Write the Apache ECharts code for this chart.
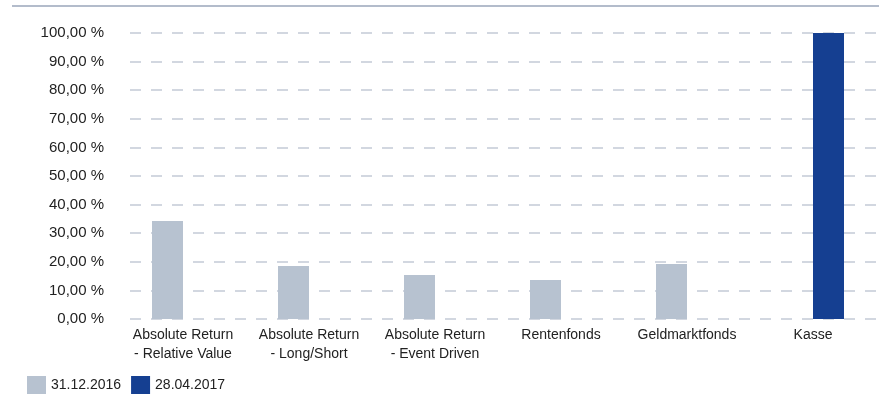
<!DOCTYPE html>
<html>
<head>
<meta charset="utf-8">
<script src="https://cdn.jsdelivr.net/npm/echarts@6/dist/echarts.min.js"></script>
<style>
html,body{margin:0;padding:0;background:#fff;}
#c{width:879px;height:394px;}
</style>
</head>
<body>
<div id="c"></div>
<script>
const categories = ['Absolute Return\n- Relative Value', 'Absolute Return\n- Long/Short', 'Absolute Return\n- Event Driven', 'Rentenfonds', 'Geldmarktfonds', 'Kasse'];
const seriesNames = ['31.12.2016', '28.04.2017'];
const values2016 = [34.3, 18.5, 15.4, 13.6, 19.2, '-'];
const values2017 = ['-', '-', '-', '-', '-', 100.4];
const yTicks = [0, 10, 20, 30, 40, 50, 60, 70, 80, 90, 100];

const chart = echarts.init(document.getElementById('c'), null, {renderer: 'canvas'});
const font = 'Liberation Sans, Arial, sans-serif';
chart.setOption({
  animation: false,
  textStyle: {fontFamily: font},
  graphic: [{
    type: 'rect',
    shape: {x: 12, y: 5, width: 867, height: 2},
    style: {fill: '#b3bccb'}
  }],
  grid: {left: 120, right: 3, top: 33, bottom: 75, containLabel: false},
  legend: {
    left: 22, top: 371,
    itemWidth: 19, itemHeight: 18, itemGap: 10,
    icon: 'rect',
    textStyle: {fontSize: 14, color: '#222', fontFamily: font},
    data: seriesNames
  },
  xAxis: {
    type: 'category',
    data: categories,
    axisLine: {show: false},
    axisTick: {show: false},
    axisLabel: {fontSize: 14, color: '#222', lineHeight: 19, margin: 7, interval: 0}
  },
  yAxis: {
    type: 'value',
    min: yTicks[0], max: yTicks[yTicks.length - 1], interval: 10,
    axisLine: {show: false},
    axisTick: {show: false},
    axisLabel: {
      fontSize: 15, color: '#222', margin: 16,
      formatter: v => v.toFixed(2).replace('.', ',') + ' %'
    },
    splitLine: {lineStyle: {color: '#c3cad6', width: 1.5, type: [11, 10], dashOffset: 11}}
  },
  series: [
    {name: seriesNames[0], type: 'bar', data: values2016, barWidth: 31, barGap: '0%', itemStyle: {color: '#b7c2d0'}},
    {name: seriesNames[1], type: 'bar', data: values2017, barWidth: 31, barGap: '0%', itemStyle: {color: '#153f91'}}
  ]
});
</script>
</body>
</html>
